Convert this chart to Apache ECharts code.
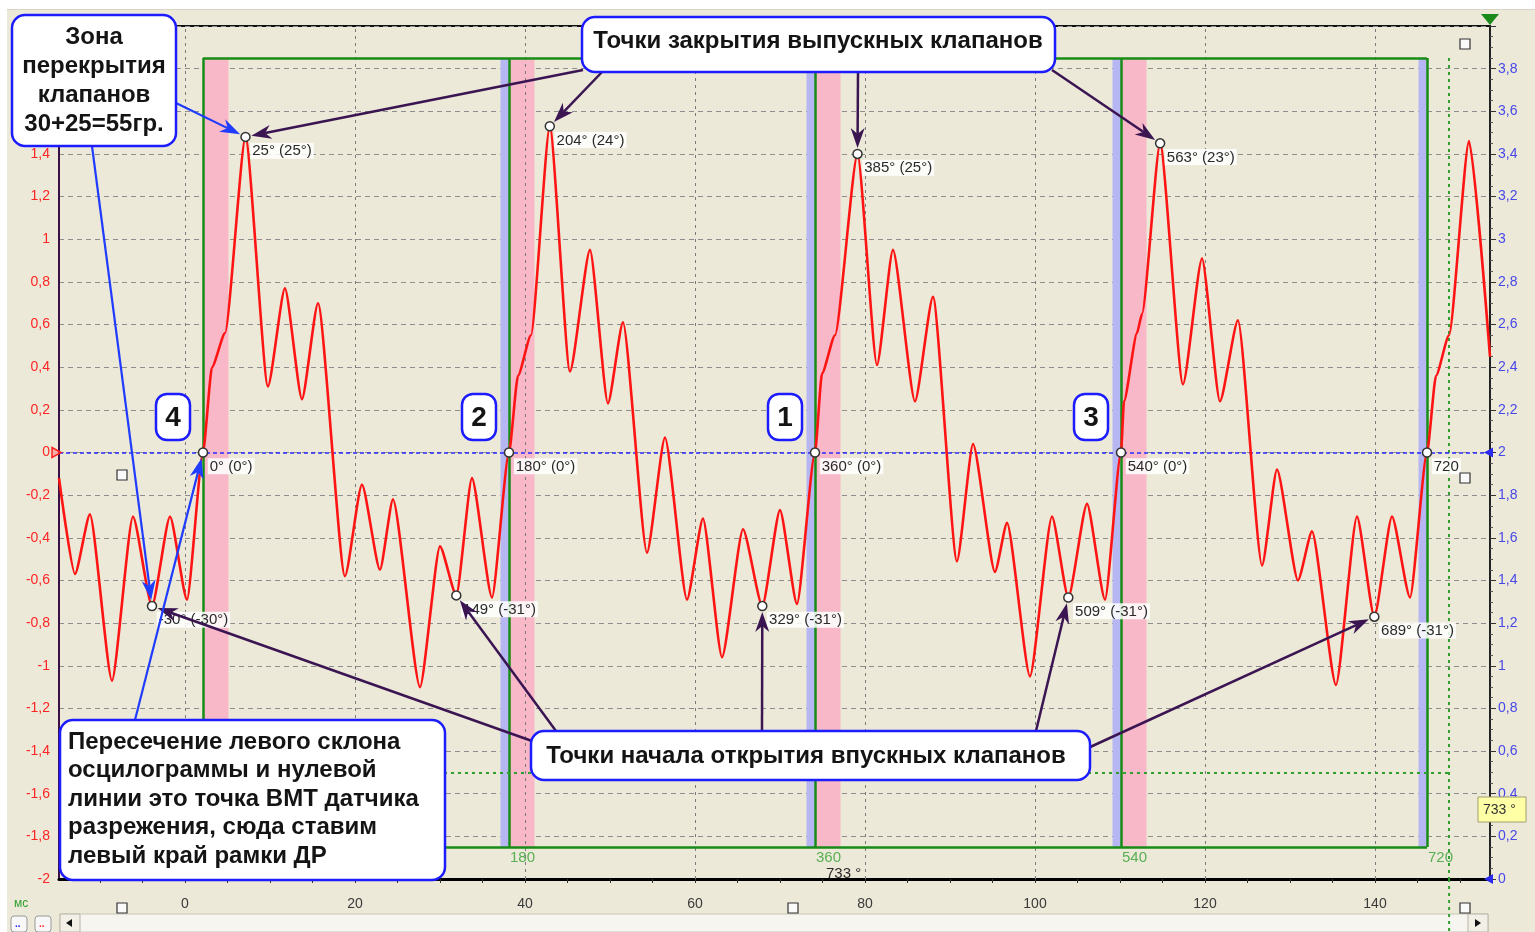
<!DOCTYPE html>
<html>
<head>
<meta charset="utf-8">
<script src="https://cdn.jsdelivr.net/npm/echarts@6/dist/echarts.min.js"></script>
<style>
html,body{margin:0;padding:0;background:#fff;}
#c{width:1535px;height:932px;}
</style>
</head>
<body>
<div id="c"></div>
<script>
// Vacuum-sensor trace: [time, ms ; signal, V on the left scale]
const leadIn = [[-14.82,-0.12],[-12.94,-0.57],[-11.18,-0.29],[-8.59,-1.07],[-6.12,-0.30],[-3.88,-0.72],[-1.76,-0.30],[0.24,-0.69]];
const cycle1 = [[2.12,0],[3.18,0.40],[4.71,0.56],[7.12,1.48],[9.76,0.31],[11.76,0.77],[13.76,0.25],[15.65,0.70],[18.82,-0.58],[20.82,-0.15],[22.94,-0.55],[24.47,-0.22],[27.65,-1.10],[30.0,-0.44],[31.92,-0.67],[33.76,-0.12],[36.12,-0.68]];
const cycle2 = [[38.12,0],[39.18,0.36],[40.7,0.55],[42.92,1.53],[45.29,0.38],[47.65,0.95],[49.76,0.23],[51.53,0.61],[54.35,-0.47],[56.47,0.07],[59.06,-0.69],[60.94,-0.31],[63.18,-0.96],[65.65,-0.36],[67.92,-0.72],[70.0,-0.27],[72.0,-0.71]];
const cycle3 = [[74.12,0],[74.94,0.37],[76.47,0.55],[79.12,1.40],[81.41,0.41],[83.29,0.95],[85.88,0.24],[88.0,0.73],[90.82,-0.51],[92.71,0.04],[95.29,-0.56],[96.71,-0.33],[99.41,-1.05],[102.0,-0.30],[103.92,-0.68],[106.12,-0.24],[108.24,-0.69]];
const cycle4 = [[110.12,0],[110.47,0.24],[112.0,0.56],[112.59,0.65],[114.72,1.45],[117.41,0.32],[119.65,0.91],[121.76,0.24],[123.88,0.62],[126.71,-0.53],[128.47,-0.08],[130.94,-0.60],[132.59,-0.37],[135.41,-1.09],[137.88,-0.30],[139.92,-0.77],[142.0,-0.30],[144.12,-0.68]];
const tail = [[146.12,0],[147.18,0.36],[148.71,0.55],[151.06,1.46],[153.53,0.45]];

// Crank-angle scale: 0° sits at 2.12 ms, one degree = 0.2 ms
const zeroDegMs = 2.12;
const msPerDeg = 0.2;

// Marked points on the trace
const markerDeg = [-30, 0, 25, 149, 180, 204, 329, 360, 385, 509, 540, 563, 689, 720];
const markerV   = [-0.72, 0, 1.48, -0.67, 0, 1.53, -0.72, 0, 1.40, -0.68, 0, 1.45, -0.77, 0];
const markerText = ['-30° (-30°)', '0° (0°)', '25° (25°)', '149° (-31°)', '180° (0°)', '204° (24°)',
  '329° (-31°)', '360° (0°)', '385° (25°)', '509° (-31°)', '540° (0°)', '563° (23°)', '689° (-31°)', '720'];

// Cycle frame (degrees) and its labels
const frameDeg = [0, 180, 360, 540, 720];
const frameLabels = ['', '180', '360', '540', '720'];
const frameLevel = 1.85;
const cylinderOrder = ['4', '2', '1', '3'];
const overlapAfterDeg = 15;   // pink zone after each frame line
const overlapBeforeDeg = 5;   // blue zone before each frame line
const cursorDeg = 733;
const cursorLevel = -1.5;

// Axis ticks
const timeTicks = [0, 20, 40, 60, 80, 100, 120, 140];
const timeMinorTicks = [-10,-5,0,5,10,15,20,25,30,35,40,45,50,55,60,65,70,75,80,85,90,95,100,105,110,115,120,125,130,135,140,145,150];

const X_MIN = -14.82, X_MAX = 153.53;
const FONT = '"Liberation Sans", Arial, sans-serif';
const deg2ms = d => zeroDegMs + d * msPerDeg;
const comma = v => { const r = Math.round(v * 10) / 10; return (r === 0 ? '0' : String(r)).replace('.', ','); };

const trace = [].concat(leadIn, cycle1, cycle2, cycle3, cycle4, tail);

const chart = echarts.init(document.getElementById('c'), null, {renderer: 'canvas'});

// pink / blue valve zones
const zones = [];
frameDeg.forEach((d, i) => {
  if (i < frameDeg.length - 1) {
    zones.push([{coord: [deg2ms(d), -frameLevel], itemStyle: {color: '#f8b8c8'}}, {coord: [deg2ms(d + overlapAfterDeg), frameLevel]}]);
  }
  if (i > 0) {
    zones.push([{coord: [deg2ms(d - overlapBeforeDeg), -frameLevel], itemStyle: {color: '#b6b6f2'}}, {coord: [deg2ms(d), frameLevel]}]);
  }
});

// green frame lines
const frameLines = frameDeg.map(d => [{coord: [deg2ms(d), -frameLevel]}, {coord: [deg2ms(d), frameLevel]}]);
frameLines.push([{coord: [deg2ms(frameDeg[0]), frameLevel]}, {coord: [deg2ms(frameDeg[frameDeg.length - 1]), frameLevel]}]);
frameLines.push([{coord: [deg2ms(frameDeg[0]), -frameLevel]}, {coord: [deg2ms(frameDeg[frameDeg.length - 1]), -frameLevel]}]);

const option = {
  animation: false,
  backgroundColor: '#ECE9D8',
  grid: {left: 59, right: 45, top: 26, bottom: 53, show: true, borderColor: '#111', borderWidth: 2, backgroundColor: 'transparent'},
  xAxis: [{
    type: 'value', min: X_MIN, max: X_MAX, position: 'bottom',
    axisLine: {show: true, onZero: false, lineStyle: {color: '#000', width: 3}},
    axisTick: {show: true, customValues: timeMinorTicks, length: 4, lineStyle: {color: '#333'}},
    axisLabel: {customValues: timeTicks, color: '#3a3a3a', fontSize: 14, fontFamily: FONT, margin: 18},
    splitLine: {show: false}
  }],
  yAxis: [{
    type: 'value', min: -2, max: 2, interval: 0.2, position: 'left',
    axisLine: {show: true, onZero: false, lineStyle: {color: '#3a0f45', width: 2}},
    axisTick: {show: false},
    axisLabel: {color: '#ff2525', fontSize: 14, fontFamily: FONT, margin: 9, formatter: comma},
    splitLine: {show: true, lineStyle: {color: '#8e8e8e', type: [5, 4], width: 1}}
  }, {
    type: 'value', min: 0, max: 4, interval: 0.2, position: 'right',
    axisLine: {show: true, onZero: false, lineStyle: {color: '#222', width: 2}},
    axisTick: {show: true, length: 6, lineStyle: {color: '#333'}},
    minorTick: {show: true, splitNumber: 4, length: 3, lineStyle: {color: '#555'}},
    axisLabel: {color: '#4848e8', fontSize: 14, fontFamily: FONT, margin: 8, showMaxLabel: false, formatter: comma},
    splitLine: {show: false}
  }],
  series: [{
    name: 'zones', type: 'line', data: [], silent: true, z: 1,
    markArea: {silent: true, data: zones, itemStyle: {opacity: 1}},
    markLine: {
      silent: true, symbol: 'none', label: {show: false},
      lineStyle: {color: '#7a7a7a', type: [3, 4], width: 1},
      data: timeTicks.map(t => ({xAxis: t}))
    }
  }, {
    name: 'frame', type: 'line', data: [], silent: true, z: 2,
    markLine: {
      silent: true, symbol: 'none', label: {show: false},
      lineStyle: {color: '#178c17', type: 'solid', width: 2.5},
      data: frameLines
    }
  }, {
    name: 'cursor', type: 'line', data: [], silent: true, z: 2,
    markLine: {
      silent: true, symbol: 'none', label: {show: false},
      lineStyle: {color: '#2fa02f', type: [3, 4], width: 2},
      data: [
        [{coord: [deg2ms(cursorDeg), frameLevel]}, {coord: [deg2ms(cursorDeg), -2]}],
        [{coord: [X_MIN, cursorLevel]}, {coord: [deg2ms(cursorDeg), cursorLevel]}]
      ]
    }
  }, {
    name: 'frameLabels', type: 'scatter', symbolSize: 0, silent: true, z: 3,
    data: frameDeg.map((d, i) => ({value: [deg2ms(d), -frameLevel], name: frameLabels[i]})),
    label: {show: true, position: [1, 3], align: 'left', verticalAlign: 'top', formatter: p => p.name,
      color: '#34a034', fontSize: 15, fontFamily: FONT}
  }, {
    name: 'signal', type: 'line', data: trace, showSymbol: false, smooth: 0.2, smoothMonotone: 'x', z: 5,
    lineStyle: {color: '#ff1414', width: 2.6}, silent: true,
    markLine: {
      silent: true, symbol: 'none', label: {show: false},
      lineStyle: {color: '#2a2aff', type: [4, 3], width: 1.5},
      data: [{yAxis: 0}]
    }
  }, {
    name: 'markers', type: 'scatter', z: 8, silent: true,
    data: markerDeg.map((d, i) => ({value: [deg2ms(d), markerV[i]], name: markerText[i]})),
    symbol: 'circle', symbolSize: 9,
    itemStyle: {color: '#ffffff', borderColor: '#333', borderWidth: 1.5, opacity: 1},
    label: {show: true, position: [10, 11], align: 'left', verticalAlign: 'top', formatter: p => p.name,
      color: '#2a2a2a', fontSize: 15, fontFamily: FONT, backgroundColor: 'rgba(255,255,255,0.85)', padding: [1, 2, 0, 2]}
  }]
};
chart.setOption(option);

// ---- annotations drawn on top of the plot ----
const px = (ms, v) => chart.convertToPixel({xAxisIndex: 0, yAxisIndex: 0}, [ms, v]);
const markerPx = d => { const i = markerDeg.indexOf(d); return px(deg2ms(d), markerV[i]); };
const Z = 100;
const g = [];

function arrow(x1, y1, target, color, w) {
  const [tx, ty] = target;
  let dx = tx - x1, dy = ty - y1, len = Math.hypot(dx, dy);
  const ux = dx / len, uy = dy / len;
  const x2 = tx - ux * 6, y2 = ty - uy * 6;
  const head = 20, hw = 7;
  const bx = x2 - ux * head, by = y2 - uy * head;
  const nx = x2 - ux * (head - 6), ny = y2 - uy * (head - 6);
  g.push({type: 'line', z: Z, shape: {x1: x1, y1: y1, x2: nx, y2: ny}, style: {stroke: color, lineWidth: w}});
  g.push({type: 'polygon', z: Z, shape: {points: [[x2, y2], [bx - uy * hw, by + ux * hw], [nx, ny], [bx + uy * hw, by - ux * hw]]},
    style: {fill: color}});
}
function box(x, y, w, h, r) {
  g.push({type: 'rect', z: Z + 1, shape: {x: x, y: y, width: w, height: h, r: r},
    style: {fill: '#ffffff', stroke: '#1c1cff', lineWidth: 2.5}});
}
function text(x, y, t, opts) {
  g.push({type: 'text', z: Z + 2, x: x, y: y, style: Object.assign({text: t, font: 'bold 24px ' + FONT, fill: '#141414'}, opts || {})});
}

// window chrome
g.push({type: 'rect', z: Z - 10, shape: {x: 0, y: 0, width: 1535, height: 9}, style: {fill: '#ffffff'}});
g.push({type: 'rect', z: Z - 10, shape: {x: 0, y: 0, width: 7, height: 932}, style: {fill: '#ffffff'}});
g.push({type: 'line', z: Z - 10, shape: {x1: 7, y1: 9.5, x2: 1535, y2: 9.5}, style: {stroke: '#d8d5c6', lineWidth: 1}});
g.push({type: 'rect', z: Z - 10, shape: {x: 60, y: 914, width: 1428, height: 18}, style: {fill: '#f6f5f0', stroke: '#c9c6b6'}});
g.push({type: 'rect', z: Z - 9, shape: {x: 60, y: 914, width: 20, height: 18}, style: {fill: '#f1efe6', stroke: '#b8b5a5'}});
g.push({type: 'polygon', z: Z - 8, shape: {points: [[66, 923], [72, 919], [72, 927]]}, style: {fill: '#111'}});
g.push({type: 'rect', z: Z - 9, shape: {x: 1468, y: 914, width: 20, height: 18}, style: {fill: '#f1efe6', stroke: '#b8b5a5'}});
g.push({type: 'polygon', z: Z - 8, shape: {points: [[1481, 923], [1475, 919], [1475, 927]]}, style: {fill: '#111'}});
g.push({type: 'text', z: Z, x: 14, y: 898, style: {text: 'мс', font: '12px ' + FONT, fill: '#2e9e2e'}});
g.push({type: 'rect', z: Z, shape: {x: 11, y: 916, width: 16, height: 16, r: 3}, style: {fill: '#f8f8f8', stroke: '#9a9a9a'}});
g.push({type: 'rect', z: Z, shape: {x: 35, y: 916, width: 16, height: 16, r: 3}, style: {fill: '#f8f8f8', stroke: '#9a9a9a'}});
g.push({type: 'text', z: Z, x: 15, y: 919, style: {text: '..', font: 'bold 10px ' + FONT, fill: '#2a2aff'}});
g.push({type: 'text', z: Z, x: 39, y: 919, style: {text: '..', font: 'bold 10px ' + FONT, fill: '#ff2a2a'}});
[[117, 470], [1460, 39], [1460, 473], [117, 903], [788, 903], [1460, 903]].forEach(p => {
  g.push({type: 'rect', z: Z, shape: {x: p[0], y: p[1], width: 10, height: 10}, style: {fill: '#fafafa', stroke: '#333', lineWidth: 1.2}});
});

// axis end markers
const zeroPx = px(X_MIN, 0);
const rightZero = px(X_MAX, 0);
const rightBottom = px(X_MAX, -2);
g.push({type: 'polygon', z: Z, shape: {points: [[zeroPx[0] - 7, zeroPx[1] - 5], [zeroPx[0] + 2, zeroPx[1]], [zeroPx[0] - 7, zeroPx[1] + 5]]},
  style: {fill: 'rgba(255,80,80,0.35)', stroke: '#ff2020', lineWidth: 1.5}});
g.push({type: 'polygon', z: Z, shape: {points: [[rightZero[0] - 6, rightZero[1]], [rightZero[0] + 3, rightZero[1] - 5], [rightZero[0] + 3, rightZero[1] + 5]]},
  style: {fill: '#2a2aee'}});
g.push({type: 'polygon', z: Z, shape: {points: [[rightBottom[0] - 6, rightBottom[1]], [rightBottom[0] + 3, rightBottom[1] - 5], [rightBottom[0] + 3, rightBottom[1] + 5]]},
  style: {fill: '#2a2aee'}});
g.push({type: 'polygon', z: Z, shape: {points: [[rightZero[0] - 9, 14], [rightZero[0] + 9, 14], [rightZero[0], 25]]}, style: {fill: '#1a8a1a'}});

// cursor extension below the time axis and its readouts
const cur = px(deg2ms(cursorDeg), -2);
g.push({type: 'line', z: Z - 5, shape: {x1: cur[0], y1: cur[1], x2: cur[0], y2: 932}, style: {stroke: '#2fa02f', lineWidth: 2, lineDash: [3, 4]}});
g.push({type: 'rect', z: Z, shape: {x: 1478, y: 797, width: 48, height: 25}, style: {fill: '#ffffa6', stroke: '#a0a070'}});
g.push({type: 'text', z: Z + 1, x: 1483, y: 803, style: {text: cursorDeg + ' °', font: '14px ' + FONT, fill: '#333'}});
g.push({type: 'text', z: Z, x: 826, y: 866, style: {text: cursorDeg + ' °', font: '15px ' + FONT, fill: '#2a2a2a'}});

// cylinder number boxes beside frame lines
cylinderOrder.forEach((c, i) => {
  const p = px(deg2ms(frameDeg[i]), 0);
  const right = p[0] - 13;
  box(right - 34, 394, 34, 46, 11);
  text(right - 17, 418, c, {font: 'bold 28px ' + FONT, textAlign: 'center', textVerticalAlign: 'middle'});
});

// arrows
const PURPLE = '#3b1552', BLUE = '#1f3cff';
[[583, 70, 25], [602, 72, 204], [858, 72, 385], [1052, 70, 563]].forEach(a => arrow(a[0], a[1], markerPx(a[2]), PURPLE, 2.5));
[[532, 741, -30], [556, 731, 149], [762, 731, 329], [1036, 731, 509], [1088, 748, 689]].forEach(a => arrow(a[0], a[1], markerPx(a[2]), PURPLE, 2.5));
[[176, 103, 25], [92, 146, -30], [135, 720, 0]].forEach(a => arrow(a[0], a[1], markerPx(a[2]), BLUE, 2.2));

// callouts
box(12, 15, 164, 131, 13);
text(94, 23, 'Зона\nперекрытия\nклапанов\n30+25=55гр.', {textAlign: 'center', textVerticalAlign: 'top', lineHeight: 29});
box(582, 17, 473, 55, 13);
text(818, 41, 'Точки закрытия выпускных клапанов', {textAlign: 'center', textVerticalAlign: 'middle'});
box(531, 731, 559, 49, 13);
text(806, 756, 'Точки начала открытия впускных клапанов', {textAlign: 'center', textVerticalAlign: 'middle'});
box(60, 720, 385, 160, 13);
text(68, 728, 'Пересечение левого склона\nосцилограммы и нулевой\nлинии это точка ВМТ датчика\nразрежения, сюда ставим\nлевый край рамки ДР', {textAlign: 'left', textVerticalAlign: 'top', lineHeight: 28.5});

chart.setOption({graphic: {elements: g}});
</script>
</body>
</html>
